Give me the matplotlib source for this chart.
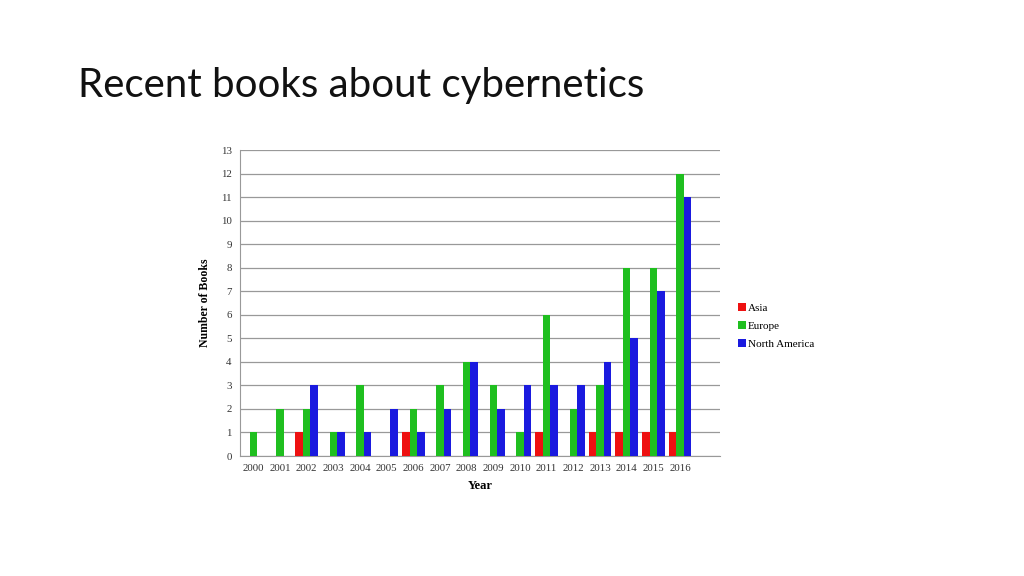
import matplotlib
matplotlib.use("Agg")
import matplotlib.pyplot as plt
import numpy as np

years = [str(y) for y in range(2000, 2017)]
asia = [0, 0, 1, 0, 0, 0, 1, 0, 0, 0, 0, 1, 0, 1, 1, 1, 1]
europe = [1, 2, 2, 1, 3, 0, 2, 3, 4, 3, 1, 6, 2, 3, 8, 8, 12]
north_america = [0, 0, 3, 1, 1, 2, 1, 2, 4, 2, 3, 3, 3, 4, 5, 7, 11]
series_names = ["Asia", "Europe", "North America"]
colors = ["#ee1111", "#1fbf1f", "#1a1adf"]

fig = plt.figure(figsize=(10.24, 5.76), dpi=100)
fig.patch.set_facecolor("white")

fig.text(78/1024, 1 - 86/576, "Recent books about cybernetics", fontsize=29,
         family=["Lato", "DejaVu Sans"], va="center", ha="left", color="#111111")

ax = fig.add_axes([240/1024, 1 - 456/576, 480/1024, 306/576])
x = np.arange(len(years))
w = 0.28
serif = ["Liberation Serif", "DejaVu Serif"]
handles = []
for i, (vals, name, c) in enumerate(zip([asia, europe, north_america], series_names, colors)):
    b = ax.bar(x + (i - 1) * w, vals, width=w, color=c, label=name, zorder=3)
    handles.append(b)

ax.set_xlim(-0.5, 17.5)
ax.set_ylim(0, 13)
ax.set_yticks(range(0, 14))
ax.set_xticks(x)
ax.set_xticklabels(years, family=serif, fontsize=7.8)
for lab in ax.get_yticklabels():
    lab.set_family(serif)
    lab.set_fontsize(7.8)
ax.tick_params(length=0, pad=6, colors="#333333")
ax.grid(axis="y", color="#999999", linewidth=0.9, zorder=0)
for s in ["top", "right"]:
    ax.spines[s].set_visible(False)
ax.spines["left"].set_color("#999999")
ax.spines["bottom"].set_color("#999999")
ax.set_ylabel("Number of Books", family=serif, fontsize=8.5, fontweight="bold", labelpad=7)
ax.set_xlabel("Year", family=serif, fontsize=9, fontweight="bold", labelpad=5)

fig.legend(handles=handles, labels=series_names, loc="center left",
           bbox_to_anchor=(728/1024, 1 - 326/576), frameon=False,
           prop={"family": serif, "size": 8}, handlelength=0.7, handleheight=0.7,
           handletextpad=0.2, labelspacing=0.75)

fig.savefig("out.png", dpi=100)
